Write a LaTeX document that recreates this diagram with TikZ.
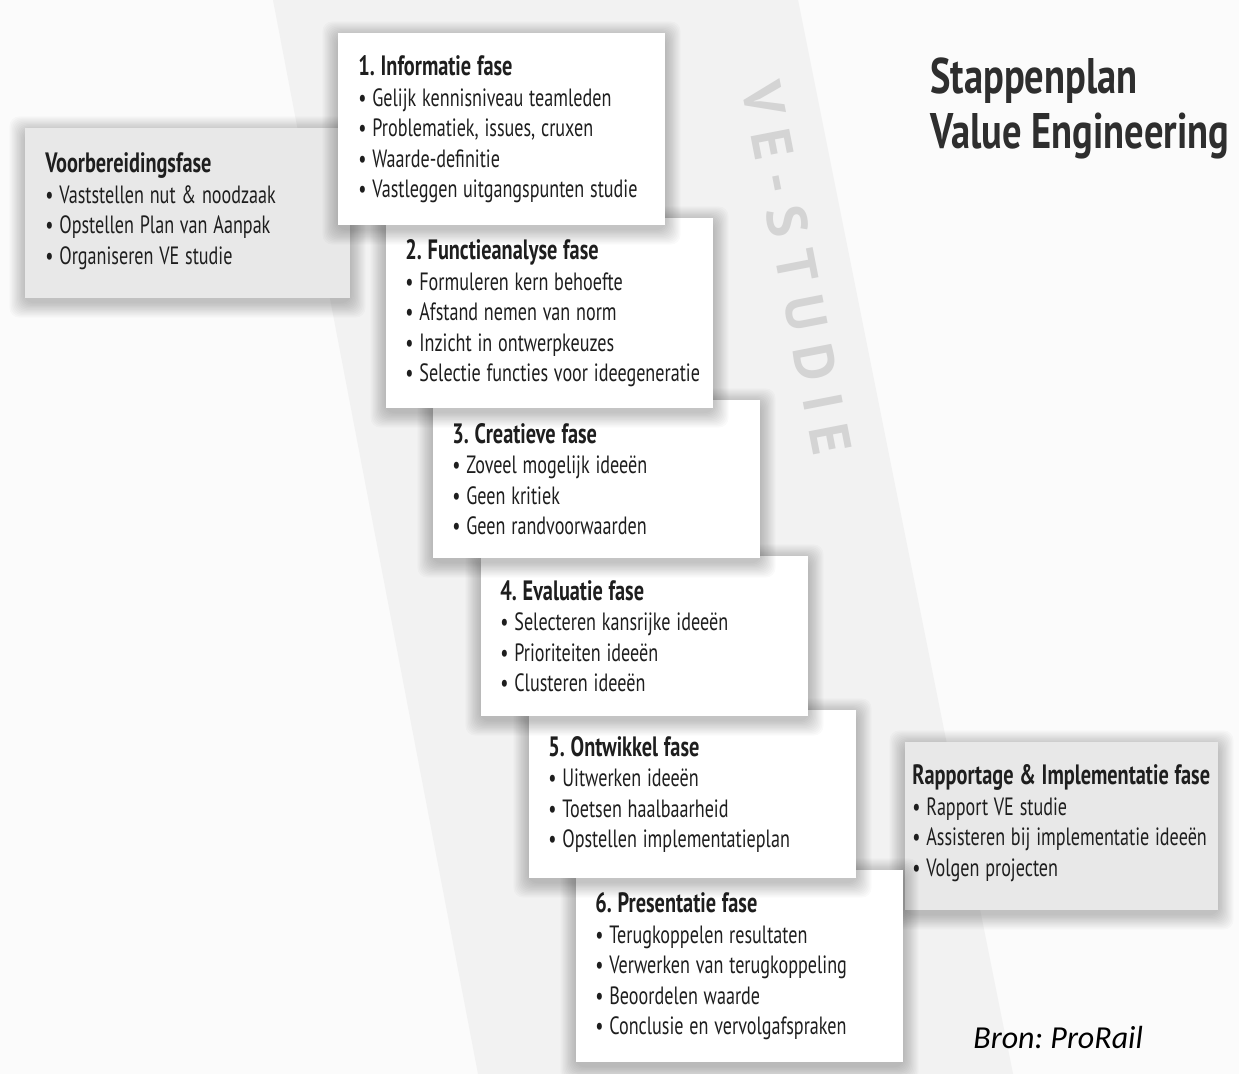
\documentclass[tikz,border=0pt]{standalone}
\usepackage{fontspec}
\setmainfont{PT Sans}[FakeStretch=0.725]
\newfontfamily\headfont{PT Sans}[FakeStretch=0.77]
\newfontfamily\stampfont{PT Sans}[LetterSpace=26]
\newfontfamily\bronfont{Carlito}

\definecolor{bgcol}{HTML}{FBFBFB}
\definecolor{bandcol}{HTML}{F2F2F2}
\definecolor{greybox}{HTML}{E8E8E8}
\definecolor{inkcol}{HTML}{1E1E1E}
\definecolor{stampcol}{HTML}{D4D4D4}

\newcommand{\fase}[1]{{\fontsize{14}{15.25}\selectfont\bfseries #1}}
\newcommand{\bul}{\textbullet\ }
\newcommand{\tightsp}{\spaceskip=2.9pt plus 1pt minus 0.5pt\relax}
% soft shadow under a box: x, y (top left), width, height in px
\newcommand{\boxshade}[4]{%
  \foreach \s in {1,...,12}
    \fill[black, opacity=0.021, rounded corners=5pt]
      (#1-1.3*\s, #2-1.3*\s+4) rectangle (#1+#3+1.3*\s, #2+#4+1.3*\s+4);
}

\tikzset{
  phase/.style={anchor=north west, fill=white, inner sep=0pt, minimum width=163.5pt},
  side/.style={phase, fill=greybox},
  phasetext/.style={anchor=west, align=left, inner sep=0pt, text=inkcol,
    font=\fontsize{12.5}{15.25}\selectfont\tightsp},
}

\begin{document}
\frenchspacing
\begin{tikzpicture}[x=0.5pt,y=-0.5pt]
  \useasboundingbox (0,0) rectangle (1239,1074);
  \fill[bgcol] (0,0) rectangle (1239,1074);
  % diagonal band
  \fill[bandcol] (273,0) -- (798,0) -- (1013,1074) -- (478,1074) -- cycle;
  \node[text=stampcol, font=\stampfont\bfseries\fontsize{28}{28}\selectfont, rotate=-79] (stamp) at (797,268) {VE-STUDIE};

  \node[anchor=north west, inner sep=0pt, align=left, text=black!82,
    font=\headfont\bfseries\fontsize{25}{27.5}\selectfont] (title) at (930,57) {Stappenplan\\Value Engineering};

  % side boxes and the six phases, back to front
  \boxshade{905}{742}{313}{168}
  \node[side, minimum width=156.5pt, minimum height=84pt] (rapport) at (905,742) {};
  \node[phasetext] (rapporttext) at ([xshift=3.5pt, yshift=1.5pt]rapport.west)
    {\fase{Rapportage \& Implementatie fase}\\ \bul Rapport VE studie\\ \bul Assisteren bij implementatie ideeën\\ \bul Volgen projecten};
  \boxshade{576}{870}{327}{192}
  \node[phase, minimum height=96pt] (p6) at (576,870) {};
  \node[phasetext] (p6text) at ([xshift=9.5pt]p6.west)
    {\fase{6. Presentatie fase}\\ \bul Terugkoppelen resultaten\\ \bul Verwerken van terugkoppeling\\ \bul Beoordelen waarde\\ \bul Conclusie en vervolgafspraken};
  \boxshade{529}{710}{327}{168}
  \node[phase, minimum height=84pt] (p5) at (529,710) {};
  \node[phasetext] (p5text) at ([xshift=9.5pt]p5.west)
    {\fase{5. Ontwikkel fase}\\ \bul Uitwerken ideeën\\ \bul Toetsen haalbaarheid\\ \bul Opstellen implementatieplan};
  \boxshade{481}{556}{327}{160}
  \node[phase, minimum height=80pt] (p4) at (481,556) {};
  \node[phasetext] (p4text) at ([xshift=9.5pt]p4.west)
    {\fase{4. Evaluatie fase}\\ \bul Selecteren kansrijke ideeën\\ \bul Prioriteiten ideeën\\ \bul Clusteren ideeën};
  \boxshade{433}{400}{327}{158}
  \node[phase, minimum height=79pt] (p3) at (433,400) {};
  \node[phasetext] (p3text) at ([xshift=9.5pt]p3.west)
    {\fase{3. Creatieve fase}\\ \bul Zoveel mogelijk ideeën\\ \bul Geen kritiek\\ \bul Geen randvoorwaarden};
  \boxshade{386}{218}{327}{190}
  \node[phase, minimum height=95pt] (p2) at (386,218) {};
  \node[phasetext] (p2text) at ([xshift=9.5pt]p2.west)
    {\fase{2. Functieanalyse fase}\\ \bul Formuleren kern behoefte\\ \bul Afstand nemen van norm\\ \bul Inzicht in ontwerpkeuzes\\ \bul Selectie functies voor ideegeneratie};
  \boxshade{25}{128}{325}{170}
  \node[side, minimum width=162.5pt, minimum height=85pt] (voor) at (25,128) {};
  \node[phasetext] (voortext) at ([xshift=10pt, yshift=1pt]voor.west)
    {\fase{Voorbereidingsfase}\\ \bul Vaststellen nut \& noodzaak\\ \bul Opstellen Plan van Aanpak\\ \bul Organiseren VE studie};
  \boxshade{338}{33}{327}{192}
  \node[phase, minimum height=96pt] (p1) at (338,33) {};
  \node[phasetext] (p1text) at ([xshift=10pt]p1.west)
    {\fase{1. Informatie fase}\\ \bul Gelijk kennisniveau teamleden\\ \bul Problematiek, issues, cruxen\\ \bul Waarde-definitie\\ \bul Vastleggen uitgangspunten studie};

  \node[anchor=west, inner sep=0pt, font=\bronfont\itshape\fontsize{16}{18}\selectfont] (bron) at (973,1038) {Bron: ProRail};
\end{tikzpicture}
\end{document}
